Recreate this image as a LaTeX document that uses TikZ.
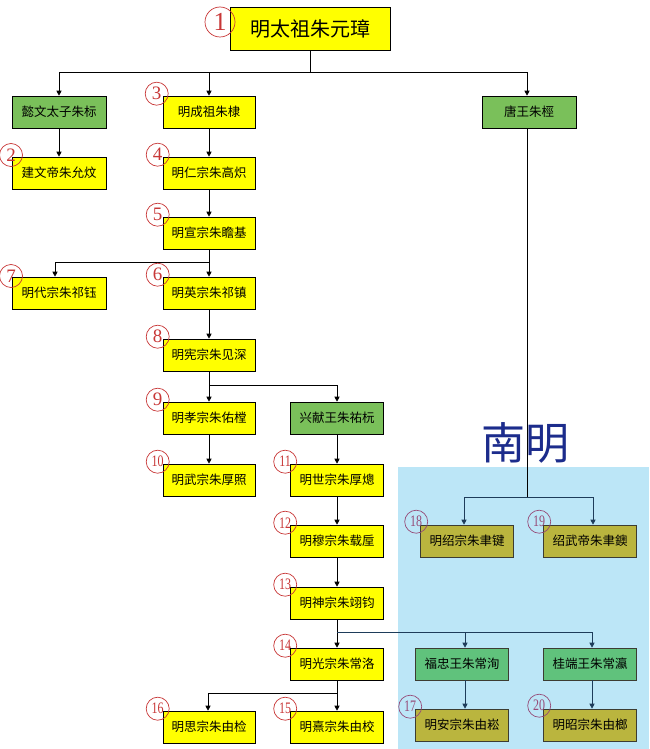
\documentclass[tikz,border=0pt]{standalone}
\usepackage{fontspec}
\setmainfont{Liberation Serif}
\newfontfamily\cjk{Noto Sans CJK SC}
\usetikzlibrary{arrows.meta,calc}
\definecolor{boxyellow}{RGB}{255,255,0}
\definecolor{boxgreen}{RGB}{122,192,90}
\definecolor{boxgreentwo}{RGB}{96,194,124}
\definecolor{boxolive}{RGB}{186,181,62}
\definecolor{regionblue}{RGB}{188,230,247}
\definecolor{navytext}{RGB}{28,44,140}
\definecolor{numred}{RGB}{200,55,55}
\definecolor{nummauve}{RGB}{150,75,120}
\definecolor{regionline}{RGB}{30,60,90}
\definecolor{regionborder}{RGB}{60,60,50}
\begin{document}
\begin{tikzpicture}[x=1pt,y=-1pt,
  kbox/.style={draw=black, line width=0.6pt, minimum width=93pt, minimum height=32pt, inner sep=0pt, font=\cjk\fontsize{12.5}{12.5}\selectfont},
  yel/.style={kbox, fill=boxyellow},
  grn/.style={kbox, fill=boxgreen},
  grntwo/.style={kbox, fill=boxgreentwo, draw=regionborder},
  olv/.style={kbox, fill=boxolive, draw=regionborder},
  num/.style={circle, draw=numred, line width=0.7pt, minimum size=23pt, inner sep=0pt, text=numred, font=\fontsize{19}{19}\selectfont},
  numtwo/.style={num, font=\fontsize{16}{16}\selectfont},
  mauve/.style={draw=nummauve, text=nummauve},
  arr/.style={-{Triangle[length=5pt,width=5pt]}, line width=0.7pt},
  rarr/.style={arr, draw=regionline},
  link/.style={line width=0.7pt},
]
\useasboundingbox (0,0) rectangle (649,749);
\fill[white] (0,0) rectangle (649,749);
\fill[regionblue] (398,467) rectangle (649,749);
\node[font=\cjk\fontsize{44}{44}\selectfont, text=navytext] (nanming) at (525,443) {南明};

% boxes
\node[yel, minimum width=160pt, minimum height=43pt, font=\cjk\fontsize{20}{20}\selectfont] (top) at (310,28.5) {明太祖朱元璋};
\node[grn, minimum width=94pt] (yiwen) at (59,112) {懿文太子朱标};
\node[yel, minimum width=92pt] (chengzu) at (209,112) {明成祖朱棣};
\node[grn, minimum width=94pt] (tang) at (529,112) {唐王朱桱};
\node[yel, minimum width=94pt] (jianwen) at (59,173) {建文帝朱允炆};
\node[yel, minimum width=92pt] (renzong) at (209,173) {明仁宗朱高炽};
\node[yel, minimum width=92pt] (xuanzong) at (209,233) {明宣宗朱瞻基};
\node[yel, minimum width=94pt] (daizong) at (59,293) {明代宗朱祁钰};
\node[yel, minimum width=92pt] (yingzong) at (209,293) {明英宗朱祁镇};
\node[yel, minimum width=92pt] (xianzong) at (209,355) {明宪宗朱见深};
\node[yel, minimum width=92pt] (xiaozong) at (209,418) {明孝宗朱佑樘};
\node[grn] (xingxian) at (337,418) {兴献王朱祐杬};
\node[yel, minimum width=92pt] (wuzong) at (209,480) {明武宗朱厚照};
\node[yel] (shizong) at (337,480) {明世宗朱厚熜};
\node[yel] (muzong) at (337,541) {明穆宗朱载垕};
\node[yel] (shenzong) at (337,603) {明神宗朱翊钧};
\node[yel] (guangzong) at (337,664) {明光宗朱常洛};
\node[yel, minimum width=92pt] (sizong) at (209,727) {明思宗朱由检};
\node[yel] (xizong) at (337,727) {明熹宗朱由校};
\node[olv] (shaozong) at (467,541) {明绍宗朱聿键};
\node[olv] (shaowu) at (590,541) {绍武帝朱聿鐭};
\node[grntwo] (fuzhong) at (462,664) {福忠王朱常洵};
\node[grntwo] (guiduan) at (590,664) {桂端王朱常瀛};
\node[olv] (anzong) at (462,725) {明安宗朱由崧};
\node[olv] (zhaozong) at (590,725) {明昭宗朱由榔};

% junctions
\coordinate (j1) at (310,72);
\coordinate (j2) at (209,262);
\coordinate (j3) at (209,385);
\coordinate (j4) at (337,632);
\coordinate (j5) at (337,693);
\coordinate (j6) at (527,497);

% connectors
\draw[link] (top.south -| j1) -- (j1);
\draw[arr] (j1) -| (yiwen.north);
\draw[arr] (j1) -| (chengzu.north);
\draw[arr] (j1) -| (tang.north -| j6);
\draw[arr] (yiwen) -- (jianwen);
\draw[arr] (chengzu) -- (renzong);
\draw[arr] (renzong) -- (xuanzong);
\draw[link] (xuanzong.south) -- (j2);
\draw[arr] (j2) -| ([xshift=-4pt]daizong.north);
\draw[arr] (j2) -- (yingzong.north);
\draw[arr] (yingzong) -- (xianzong);
\draw[link] (xianzong.south) -- (j3);
\draw[arr] (j3) -- (xiaozong.north);
\draw[arr] (j3) -| (xingxian.north);
\draw[arr] (xiaozong) -- (wuzong);
\draw[arr] (xingxian) -- (shizong);
\draw[arr] (shizong) -- (muzong);
\draw[arr] (muzong) -- (shenzong);
\draw[link] (shenzong.south) -- (j4);
\draw[arr] (j4) -- (guangzong.north);
\draw[rarr] (j4) -| ([xshift=3pt]fuzhong.north);
\draw[rarr] (j4) -| ([xshift=2pt]guiduan.north);
\draw[link] (guangzong.south) -- (j5);
\draw[arr] (j5) -| ([xshift=-1pt]sizong.north);
\draw[arr] (j5) -- (xizong.north);
\draw[link] (tang.south -| j6) -- (j6);
\draw[rarr] (j6) -| ([xshift=-3pt]shaozong.north);
\draw[rarr] (j6) -| ([xshift=3pt]shaowu.north);
\draw[rarr] ([xshift=3pt]fuzhong.south) -- ([xshift=3pt]anzong.north);
\draw[rarr] ([xshift=2pt]guiduan.south) -- ([xshift=2pt]zhaozong.north);

% numbers
\node[num, minimum size=30pt, font=\fontsize{26}{26}\selectfont] (n1) at (220,22) {1};
\node[num] (n2) at (11,155) {2};
\node[num] (n3) at ($(chengzu.north west)+(-6,-2)$) {3};
\node[num] (n4) at ($(renzong.north west)+(-5,-2)$) {4};
\node[num] (n5) at ($(xuanzong.north west)+(-5,-2)$) {5};
\node[num] (n6) at ($(yingzong.north west)+(-5,-2)$) {6};
\node[num] (n7) at (11,276) {7};
\node[num] (n8) at ($(xianzong.north west)+(-5,-2)$) {8};
\node[num] (n9) at ($(xiaozong.north west)+(-5,-2)$) {9};
\node[numtwo] (n10) at ($(wuzong.north west)+(-5,-2)$) {\scalebox{0.75}[1]{10}};
\node[numtwo] (n11) at ($(shizong.north west)+(-5,-2)$) {\scalebox{0.75}[1]{11}};
\node[numtwo] (n12) at ($(muzong.north west)+(-5,-2)$) {\scalebox{0.75}[1]{12}};
\node[numtwo] (n13) at ($(shenzong.north west)+(-5,-2)$) {\scalebox{0.75}[1]{13}};
\node[numtwo] (n14) at ($(guangzong.north west)+(-5,-2)$) {\scalebox{0.75}[1]{14}};
\node[numtwo] (n15) at ($(xizong.north west)+(-5,-2)$) {\scalebox{0.75}[1]{15}};
\node[numtwo] (n16) at ($(sizong.north west)+(-5,-2)$) {\scalebox{0.75}[1]{16}};
\node[numtwo, mauve] (n17) at ($(anzong.north west)+(-5,-2)$) {\scalebox{0.75}[1]{17}};
\node[numtwo, mauve] (n18) at ($(shaozong.north west)+(-4,-3)$) {\scalebox{0.75}[1]{18}};
\node[numtwo, mauve] (n19) at ($(shaowu.north west)+(-4,-3)$) {\scalebox{0.75}[1]{19}};
\node[numtwo, mauve] (n20) at ($(zhaozong.north west)+(-4,-3)$) {\scalebox{0.75}[1]{20}};
\end{tikzpicture}
\end{document}
